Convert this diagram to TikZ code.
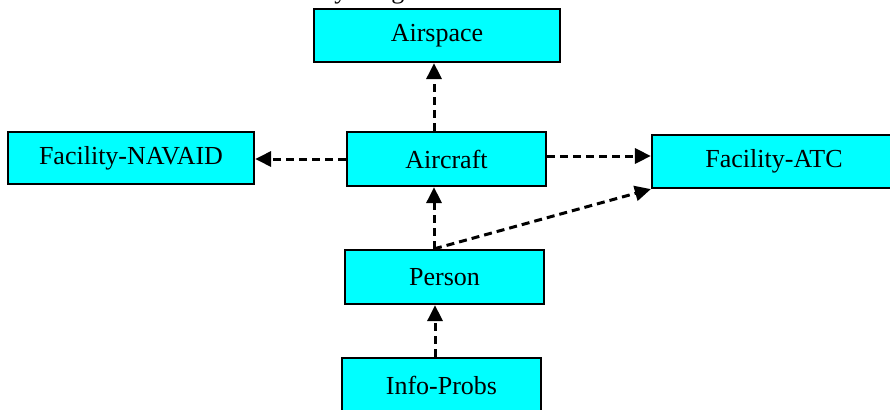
\documentclass[tikz,border=0pt]{standalone}
\usepackage{fontspec}
\setmainfont{Liberation Serif}
\usetikzlibrary{arrows.meta}
\definecolor{entityfill}{HTML}{00FFFF}
\begin{document}
\begin{tikzpicture}[x=1pt,y=-1pt,
  entity/.style={draw=black, line width=2.2pt, fill=entityfill, inner sep=0pt,
    minimum width=199pt, minimum height=54pt,
    font=\fontsize{26}{30}\selectfont},
  dep/.style={-{Triangle[length=16pt,width=15pt]}, line width=3pt,
    dash pattern=on 8pt off 5pt}]
\useasboundingbox (0,0) rectangle (890,409);

% title line, sitting above the page edge
\node[anchor=base west, inner sep=0pt, font=\fontsize{26}{30}\selectfont]
  (title) at (262,-1.5) {Activity Diagram};

% entities
\node[entity, minimum width=246pt, minimum height=53pt] (airspace) at (437,35.5) {Airspace};
\node[entity, minimum width=246pt, minimum height=52pt] (navaid) at (131,158) {Facility-NAVAID};
\node[entity] (aircraft) at (446.5,159) {Aircraft};
\node[entity, minimum width=244pt, minimum height=53pt] (atc) at (774,161.5) {Facility-ATC};
\node[entity] (person) at (444.5,277) {Person};
\node[entity] (info) at (441.5,385) {Info-Probs};

% dependencies
\draw[dep] ([xshift=-12.5pt]aircraft.north) -- ([xshift=-12.5pt]aircraft.north |- airspace.south);
\draw[dep] (aircraft.west) -- (aircraft.west -| navaid.east);
\draw[dep] ([yshift=3pt]aircraft.east) -- ([yshift=3pt]aircraft.east -| atc.west);
\draw[dep] ([xshift=-10.5pt]person.north) -- ([xshift=-10.5pt]person.north |- aircraft.south);
\draw[dep] ([xshift=-10.5pt]person.north) -- (atc.south west);
\draw[dep] ([xshift=-6.5pt]info.north) -- ([xshift=-6.5pt]info.north |- person.south);
\end{tikzpicture}
\end{document}
